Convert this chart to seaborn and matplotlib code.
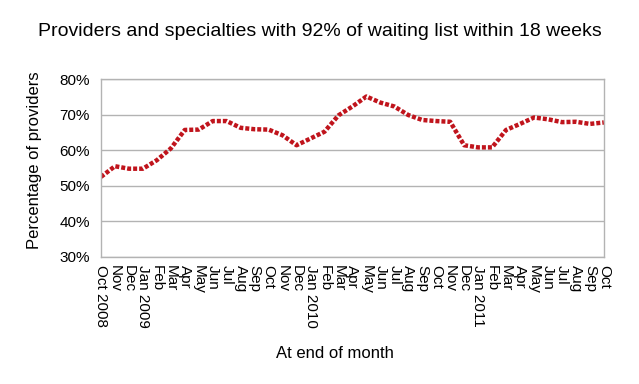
import matplotlib
matplotlib.use("Agg")
import matplotlib.pyplot as plt
import seaborn as sns
import pandas as pd
from matplotlib.ticker import PercentFormatter

months = ["Oct 2008", "Nov", "Dec", "Jan 2009", "Feb", "Mar", "Apr", "May", "Jun", "Jul",
          "Aug", "Sep", "Oct", "Nov", "Dec", "Jan 2010", "Feb", "Mar", "Apr", "May",
          "Jun", "Jul", "Aug", "Sep", "Oct", "Nov", "Dec", "Jan 2011", "Feb", "Mar",
          "Apr", "May", "Jun", "Jul", "Aug", "Sep", "Oct"]
pct_providers = [52.5, 55.5, 54.8, 54.8, 57.2, 60.5, 65.7, 65.8, 68.2, 68.2,
                 66.3, 65.9, 65.8, 64.2, 61.4, 63.3, 65.2, 69.8, 72.3, 75.1,
                 73.4, 72.3, 69.9, 68.5, 68.2, 68.0, 61.4, 60.8, 60.8, 65.7,
                 67.4, 69.2, 68.7, 67.9, 68.0, 67.4, 67.8]

df = pd.DataFrame({"pos": range(len(months)), "month": months, "pct": pct_providers})

sns.set_style("white")
plt.rcParams['font.family'] = ['Liberation Sans', 'DejaVu Sans']
plt.rcParams['text.color'] = 'black'
plt.rcParams['axes.labelcolor'] = 'black'
plt.rcParams['xtick.labelcolor'] = 'black'
plt.rcParams['ytick.labelcolor'] = 'black'

fig = plt.figure(figsize=(6.39, 3.84), dpi=100)
ax = fig.add_axes([0.158, 0.331, 0.787, 0.463])

sns.lineplot(data=df, x="pos", y="pct", ax=ax, color="#c0141c", linewidth=3.2,
             linestyle=(0, (0.9, 0.45)))

ax.set_xlim(0, len(months) - 1)
ax.set_ylim(30, 80)
ax.set_yticks(range(30, 81, 10))
ax.yaxis.set_major_formatter(PercentFormatter(decimals=0))
ax.set_xticks(df["pos"])
ax.set_xticklabels(months, rotation=-90, fontsize=11)
ax.tick_params(axis="y", labelsize=11, length=5, color="#b3b3b3", pad=3)
ax.tick_params(axis="x", length=4, color="#b3b3b3", pad=2)
ax.grid(axis="y", color="#b3b3b3", linewidth=1)
for s in ax.spines.values():
    s.set_color("#b3b3b3")
    s.set_linewidth(1)

fig.suptitle("Providers and specialties with 92% of waiting list within 18 weeks",
             fontsize=14, x=0.5, y=0.917, va="center")
ax.set_xlabel("At end of month", fontsize=12)
ax.xaxis.set_label_coords(0.465, -0.50)
ax.set_ylabel("Percentage of providers", fontsize=12)
ax.yaxis.set_label_coords(-0.117, 0.545)

fig.savefig("out.png", dpi=100)
